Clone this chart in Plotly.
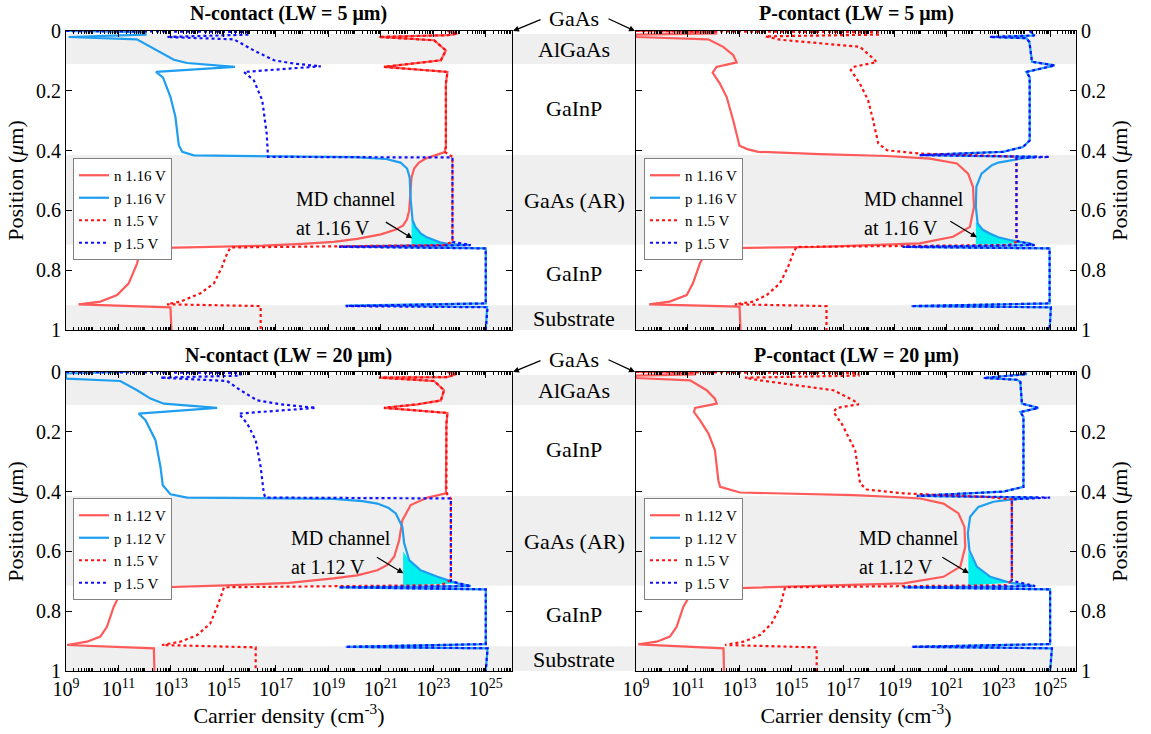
import plotly.graph_objects as go

# ---------------- data (position in µm, carrier density as log10 exponent) ----------------
# Panel 1: N-contact (LW = 5 µm)
tl_n_lo_pos = [0.0, 0.009, 0.014, 0.02, 0.031, 0.065, 0.098, 0.109, 0.12, 0.137, 0.176, 0.388, 0.405, 0.415, 0.425, 0.44, 0.46, 0.49, 0.55, 0.6, 0.63, 0.65, 0.665, 0.68, 0.695, 0.705, 0.712, 0.718, 0.722, 0.727, 0.777, 0.844, 0.883, 0.905, 0.914, 0.924, 1.0]
tl_n_lo_exp = [23.54, 23.92, 23.54, 20.93, 23.03, 23.48, 23.29, 22.27, 21.12, 23.54, 23.48, 23.48, 23.43, 23.1, 22.75, 22.45, 22.27, 22.17, 22.12, 22.08, 22.0, 21.85, 21.55, 21.0, 20.1, 19.2, 18.0, 16.5, 14.5, 11.84, 11.71, 11.39, 10.95, 10.31, 9.48, 12.98, 13.02]
tl_p_lo_pos = [0.0, 0.004, 0.012, 0.02, 0.028, 0.065, 0.096, 0.107, 0.12, 0.137, 0.156, 0.22, 0.287, 0.382, 0.404, 0.416, 0.42, 0.422, 0.428, 0.44, 0.46, 0.49, 0.566, 0.633, 0.655, 0.677, 0.69, 0.7, 0.708, 0.713, 0.716, 0.72, 0.727, 0.911, 0.918, 0.923, 1.0]
tl_p_lo_exp = [9.0, 12.03, 12.03, 9.1, 11.7, 12.47, 13.11, 13.62, 15.44, 12.43, 12.7, 12.98, 13.17, 13.3, 13.43, 13.87, 17.0, 20.0, 21.2, 21.75, 22.0, 22.1, 22.14, 22.21, 22.32, 22.52, 22.75, 23.03, 23.3, 23.6, 24.4, 19.4, 25.0, 25.0, 19.65, 25.05, 25.0]
tl_n_hi_pos = [0.0, 0.009, 0.014, 0.02, 0.031, 0.065, 0.098, 0.109, 0.12, 0.137, 0.176, 0.388, 0.404, 0.421, 0.705, 0.716, 0.724, 0.744, 0.788, 0.844, 0.877, 0.905, 0.914, 0.92, 1.0]
tl_n_hi_exp = [23.54, 23.92, 23.54, 20.93, 23.03, 23.48, 23.29, 22.27, 21.12, 23.54, 23.48, 23.48, 23.43, 23.73, 23.73, 23.4, 15.27, 15.14, 14.95, 14.64, 14.13, 13.36, 12.85, 16.42, 16.42]
tl_p_hi_pos = [0.0, 0.003, 0.012, 0.02, 0.028, 0.065, 0.098, 0.109, 0.118, 0.137, 0.165, 0.232, 0.343, 0.41, 0.421, 0.423, 0.705, 0.716, 0.722, 0.727, 0.911, 0.92, 0.924, 1.0]
tl_p_hi_exp = [9.0, 15.97, 15.97, 12.85, 15.4, 16.16, 16.93, 17.69, 18.71, 15.78, 16.16, 16.48, 16.65, 16.67, 16.7, 23.73, 23.73, 24.43, 19.41, 25.0, 25.0, 19.66, 25.07, 25.0]

# Panel 2: P-contact (LW = 5 µm)
tr_n_lo_pos = [0.0, 0.003, 0.008, 0.012, 0.02, 0.028, 0.053, 0.081, 0.105, 0.12, 0.139, 0.176, 0.22, 0.3, 0.384, 0.395, 0.404, 0.412, 0.418, 0.427, 0.443, 0.477, 0.521, 0.588, 0.655, 0.688, 0.71, 0.722, 0.727, 0.777, 0.844, 0.883, 0.905, 0.914, 0.922, 1.0]
tr_n_lo_exp = [9.0, 12.1, 12.1, 9.0, 9.0, 11.79, 12.37, 12.76, 12.89, 12.11, 11.96, 12.24, 12.5, 12.76, 13.0, 13.3, 13.72, 16.1, 18.7, 20.35, 21.4, 21.83, 22.02, 22.06, 21.9, 21.25, 19.96, 16.1, 11.79, 11.47, 11.2, 10.96, 10.3, 9.51, 13.0, 13.04]
tr_p_lo_pos = [0.0, 0.015, 0.02, 0.024, 0.037, 0.103, 0.115, 0.137, 0.154, 0.366, 0.388, 0.404, 0.415, 0.421, 0.426, 0.432, 0.44, 0.449, 0.465, 0.477, 0.521, 0.588, 0.644, 0.665, 0.677, 0.69, 0.699, 0.71, 0.716, 0.722, 0.727, 0.911, 0.92, 0.924, 1.0]
tr_p_lo_exp = [24.21, 24.4, 22.67, 24.08, 24.2, 24.3, 25.18, 24.08, 24.21, 24.21, 23.95, 23.18, 19.96, 24.5, 23.9, 23.5, 23.0, 22.75, 22.5, 22.35, 22.15, 22.13, 22.2, 22.4, 22.67, 23.0, 23.44, 24.2, 24.4, 19.3, 24.98, 24.98, 19.64, 25.03, 24.98]
tr_n_hi_pos = [0.0, 0.004, 0.012, 0.018, 0.029, 0.053, 0.087, 0.104, 0.12, 0.131, 0.176, 0.232, 0.298, 0.376, 0.399, 0.41, 0.42, 0.705, 0.716, 0.722, 0.744, 0.788, 0.844, 0.883, 0.905, 0.914, 0.92, 1.0]
tr_n_hi_exp = [9.0, 18.4, 18.4, 14.0, 14.56, 17.65, 18.1, 18.3, 17.4, 17.3, 17.65, 17.97, 18.16, 18.36, 18.7, 19.96, 23.7, 23.7, 23.4, 15.2, 15.07, 14.88, 14.56, 14.05, 13.53, 12.82, 16.36, 16.36]
tr_p_hi_pos = [0.0, 0.015, 0.02, 0.024, 0.037, 0.103, 0.115, 0.137, 0.154, 0.366, 0.388, 0.404, 0.415, 0.421, 0.425, 0.702, 0.716, 0.722, 0.727, 0.911, 0.92, 0.924, 1.0]
tr_p_hi_exp = [24.21, 24.4, 22.67, 24.08, 24.2, 24.3, 25.18, 24.08, 24.21, 24.21, 23.95, 23.18, 19.96, 24.98, 23.7, 23.7, 24.4, 19.3, 24.98, 24.98, 19.64, 25.03, 24.98]

# Panel 3: N-contact (LW = 20 µm)
bl_n_lo_pos = [0.0, 0.007, 0.017, 0.019, 0.03, 0.061, 0.095, 0.108, 0.12, 0.137, 0.173, 0.395, 0.406, 0.42, 0.445, 0.496, 0.562, 0.618, 0.645, 0.663, 0.68, 0.69, 0.705, 0.713, 0.72, 0.724, 0.741, 0.785, 0.852, 0.885, 0.902, 0.913, 0.924, 1.0]
bl_n_lo_exp = [23.54, 23.86, 23.54, 20.93, 23.03, 23.41, 23.29, 22.4, 21.12, 23.54, 23.5, 23.5, 23.48, 22.78, 22.14, 21.82, 21.7, 21.51, 21.25, 20.87, 20.1, 19.2, 17.5, 15.4, 13.0, 11.2, 11.07, 10.82, 10.56, 10.31, 9.8, 9.04, 12.35, 12.37]
bl_p_lo_pos = [0.0, 0.005, 0.022, 0.03, 0.061, 0.089, 0.106, 0.12, 0.139, 0.161, 0.228, 0.317, 0.379, 0.409, 0.42, 0.424, 0.432, 0.44, 0.455, 0.473, 0.518, 0.573, 0.629, 0.663, 0.685, 0.707, 0.716, 0.72, 0.727, 0.91, 0.919, 0.924, 1.0]
bl_p_lo_exp = [11.33, 9.0, 9.0, 11.07, 11.71, 12.22, 12.73, 14.76, 11.77, 12.03, 12.41, 12.6, 12.69, 12.98, 13.62, 19.2, 20.3, 20.87, 21.3, 21.57, 21.82, 21.89, 22.08, 22.52, 23.16, 23.92, 24.43, 19.4, 25.0, 25.0, 19.66, 25.07, 25.0]
bl_n_hi_pos = [0.0, 0.007, 0.017, 0.019, 0.03, 0.061, 0.095, 0.108, 0.12, 0.137, 0.173, 0.395, 0.412, 0.423, 0.696, 0.713, 0.72, 0.74, 0.785, 0.841, 0.88, 0.902, 0.913, 0.921, 1.0]
bl_n_hi_exp = [23.54, 23.86, 23.54, 20.93, 23.03, 23.41, 23.29, 22.4, 21.12, 23.54, 23.5, 23.5, 23.54, 23.67, 23.67, 23.3, 15.02, 14.95, 14.76, 14.5, 14.0, 13.36, 12.66, 16.23, 16.23]
bl_p_hi_pos = [0.0, 0.003, 0.012, 0.019, 0.03, 0.061, 0.095, 0.108, 0.12, 0.139, 0.173, 0.228, 0.317, 0.406, 0.42, 0.423, 0.7, 0.716, 0.72, 0.727, 0.91, 0.919, 0.924, 1.0]
bl_p_hi_exp = [9.0, 15.65, 15.65, 12.6, 15.14, 15.65, 16.29, 17.18, 18.52, 15.59, 15.91, 16.23, 16.42, 16.54, 16.6, 23.67, 23.67, 24.43, 19.4, 25.0, 25.0, 19.66, 25.07, 25.0]

# Panel 4: P-contact (LW = 20 µm)
br_n_lo_pos = [0.0, 0.003, 0.008, 0.012, 0.02, 0.028, 0.061, 0.089, 0.106, 0.12, 0.134, 0.161, 0.206, 0.262, 0.362, 0.384, 0.403, 0.412, 0.418, 0.423, 0.44, 0.473, 0.518, 0.585, 0.651, 0.685, 0.707, 0.718, 0.727, 0.785, 0.852, 0.885, 0.902, 0.911, 0.924, 1.0]
br_n_lo_exp = [9.0, 11.28, 11.28, 9.0, 9.0, 11.09, 11.73, 12.05, 12.12, 11.28, 11.24, 11.47, 11.8, 12.05, 12.18, 12.25, 13.02, 17.4, 19.0, 19.98, 20.88, 21.46, 21.69, 21.72, 21.53, 20.88, 19.34, 14.82, 11.22, 10.83, 10.57, 10.31, 9.8, 9.09, 12.38, 12.4]
br_p_lo_pos = [0.0, 0.007, 0.02, 0.026, 0.033, 0.106, 0.12, 0.134, 0.15, 0.384, 0.4, 0.414, 0.42, 0.426, 0.434, 0.451, 0.484, 0.54, 0.596, 0.651, 0.685, 0.705, 0.716, 0.72, 0.727, 0.91, 0.919, 0.924, 1.0]
br_p_lo_exp = [23.97, 24.1, 22.43, 23.72, 23.85, 23.91, 24.55, 23.85, 23.97, 23.97, 23.2, 19.85, 24.5, 23.52, 22.81, 22.23, 21.91, 21.82, 21.88, 22.17, 22.69, 23.46, 24.42, 19.34, 25.0, 25.0, 19.66, 25.07, 25.0]
br_n_hi_pos = [0.0, 0.004, 0.012, 0.019, 0.028, 0.061, 0.095, 0.108, 0.12, 0.134, 0.173, 0.262, 0.373, 0.393, 0.406, 0.418, 0.426, 0.696, 0.713, 0.72, 0.74, 0.785, 0.841, 0.88, 0.902, 0.913, 0.921, 1.0]
br_n_hi_exp = [9.0, 17.6, 17.6, 13.21, 13.79, 16.63, 17.4, 17.6, 16.76, 16.63, 16.95, 17.47, 17.66, 17.92, 19.34, 22.56, 23.52, 23.52, 23.3, 14.76, 14.7, 14.57, 14.24, 13.79, 13.15, 12.44, 15.98, 15.98]
br_p_hi_pos = [0.0, 0.007, 0.02, 0.026, 0.033, 0.106, 0.12, 0.134, 0.15, 0.384, 0.4, 0.414, 0.42, 0.426, 0.698, 0.716, 0.72, 0.727, 0.91, 0.919, 0.924, 1.0]
br_p_hi_exp = [23.97, 24.1, 22.43, 23.72, 23.85, 23.91, 24.55, 23.85, 23.97, 23.97, 23.2, 19.85, 25.0, 23.52, 23.52, 24.42, 19.34, 25.0, 25.0, 19.66, 25.07, 25.0]

panel_titles = ["N-contact (LW = 5 μm)", "P-contact (LW = 5 μm)",
                "N-contact (LW = 20 μm)", "P-contact (LW = 20 μm)"]
low_bias = ["1.16 V", "1.16 V", "1.12 V", "1.12 V"]
high_bias = "1.5 V"
# MD channel fill: (top position, bottom position, left edge exponent)
channel_top = [0.63, 0.64, 0.6, 0.6]
channel_bottom = [0.714, 0.714, 0.714, 0.714]
channel_left = [22.17, 22.13, 21.85, 21.84]

layer_names = ["AlGaAs", "GaInP", "GaAs (AR)", "GaInP", "Substrate"]
layer_label_pos = [0.061, 0.258, 0.566, 0.81, 0.963]
gray_bands = [(0.01, 0.11), (0.415, 0.715), (0.917, 1.0)]

x_tick_exps = list(range(9, 26, 2))

panels = [
    (tl_n_lo_pos, tl_n_lo_exp, tl_p_lo_pos, tl_p_lo_exp, tl_n_hi_pos, tl_n_hi_exp, tl_p_hi_pos, tl_p_hi_exp),
    (tr_n_lo_pos, tr_n_lo_exp, tr_p_lo_pos, tr_p_lo_exp, tr_n_hi_pos, tr_n_hi_exp, tr_p_hi_pos, tr_p_hi_exp),
    (bl_n_lo_pos, bl_n_lo_exp, bl_p_lo_pos, bl_p_lo_exp, bl_n_hi_pos, bl_n_hi_exp, bl_p_hi_pos, bl_p_hi_exp),
    (br_n_lo_pos, br_n_lo_exp, br_p_lo_pos, br_p_lo_exp, br_n_hi_pos, br_n_hi_exp, br_p_hi_pos, br_p_hi_exp),
]

# ---------------- layout geometry ----------------
W, H = 1151, 734
FONT = "Liberation Serif, Times New Roman, Times, serif"
xdoms = [[66 / W, 512 / W], [636 / W, 1076 / W]] * 2
ydom_top = [1 - 330 / H, 1 - 31 / H]
ydom_bot = [1 - 671 / H, 1 - 372 / H]
ydoms = [ydom_top, ydom_top, ydom_bot, ydom_bot]

C_N_LO = "#ff5a5a"
C_P_LO = "#1e9ef0"
C_N_HI = "#ff1010"
C_P_HI = "#1010ff"

fig = go.Figure()

def tolin(e):
    return [10.0 ** v for v in e]

for i, (nlp, nle, plp, ple, nhp, nhe, php, phe) in enumerate(panels):
    k = i + 1
    xa = "x" if k == 1 else f"x{k}"
    ya = "y" if k == 1 else f"y{k}"
    lg = "legend" if k == 1 else f"legend{k}"
    # MD channel fill
    sel = [(p, e) for p, e in zip(plp, ple) if channel_top[i] <= p <= channel_bottom[i]]
    fx = [channel_left[i]] + [e for p, e in sel] + [channel_left[i]]
    fy = [channel_top[i]] + [p for p, e in sel] + [channel_bottom[i]]
    fig.add_trace(go.Scatter(x=tolin(fx), y=fy, mode="lines", fill="toself",
                             fillcolor="#00f0f0", line=dict(width=0), showlegend=False,
                             hoverinfo="skip", xaxis=xa, yaxis=ya))
    fig.add_trace(go.Scatter(x=tolin(nle), y=nlp, mode="lines", name="n " + low_bias[i],
                             line=dict(color=C_N_LO, width=2.2), xaxis=xa, yaxis=ya, legend=lg))
    fig.add_trace(go.Scatter(x=tolin(ple), y=plp, mode="lines", name="p " + low_bias[i],
                             line=dict(color=C_P_LO, width=2.2), xaxis=xa, yaxis=ya, legend=lg))
    fig.add_trace(go.Scatter(x=tolin(nhe), y=nhp, mode="lines", name="n " + high_bias,
                             line=dict(color=C_N_HI, width=2.2, dash="dot"), xaxis=xa, yaxis=ya, legend=lg))
    fig.add_trace(go.Scatter(x=tolin(phe), y=php, mode="lines", name="p " + high_bias,
                             line=dict(color=C_P_HI, width=2.2, dash="dot"), xaxis=xa, yaxis=ya, legend=lg))

minor_vals = [float(m) * 10.0 ** d for d in range(9, 26) for m in range(1, 10)
              if not (m == 1 and d in x_tick_exps)]

layout = dict(
    width=W, height=H,
    margin=dict(l=0, r=0, t=0, b=0),
    paper_bgcolor="white", plot_bgcolor="rgba(0,0,0,0)",
    font=dict(family=FONT, size=20, color="black"),
    showlegend=True,
)

for i in range(4):
    k = i + 1
    xkey = "xaxis" if k == 1 else f"xaxis{k}"
    ykey = "yaxis" if k == 1 else f"yaxis{k}"
    bottom = i >= 2
    right = i % 2 == 1
    layout[xkey] = dict(
        type="log", range=[9, 26], domain=xdoms[i],
        anchor="y" if k == 1 else f"y{k}",
        showline=True, linecolor="black", linewidth=1, mirror="allticks",
        ticks="inside", ticklen=6, tickcolor="black",
        tickvals=[10.0 ** e for e in x_tick_exps],
        ticktext=[f"10<sup>{e}</sup>" for e in x_tick_exps],
        showticklabels=bottom,
        minor=dict(ticks="inside", ticklen=3, tickvals=minor_vals, tickcolor="black"),
        showgrid=False, zeroline=False,
        tickfont=dict(family=FONT, size=20),
        title=dict(text="Carrier density (cm<sup>-3</sup>)" if bottom else "",
                   font=dict(family=FONT, size=22), standoff=4),
        automargin=False,
    )
    layout[ykey] = dict(
        range=[1, 0], domain=ydoms[i],
        anchor="x" if k == 1 else f"x{k}",
        side="right" if right else "left",
        showline=True, linecolor="black", linewidth=1, mirror="allticks",
        ticks="inside", ticklen=6, tickcolor="black",
        tickvals=[0, 0.2, 0.4, 0.6, 0.8, 1.0],
        ticktext=["0", "0.2", "0.4", "0.6", "0.8", "1"],
        showgrid=False, zeroline=False,
        tickfont=dict(family=FONT, size=20),
        title=dict(text="Position (<i>μ</i>m)", font=dict(family=FONT, size=22), standoff=6),
        automargin=False,
    )
    lkey = "legend" if k == 1 else f"legend{k}"
    layout[lkey] = dict(
        x=(73 if not right else 644) / W,
        y=1 - (158 if not bottom else 498) / H,
        xanchor="left", yanchor="top",
        bordercolor="#808080", borderwidth=1, bgcolor="white",
        font=dict(family=FONT, size=15), tracegroupgap=0, itemwidth=30,
    )

fig.update_layout(**layout)

def pos_to_paper(pos, dom):
    return dom[1] - pos * (dom[1] - dom[0])

# gray layer bands across both columns
for dom in (ydom_top, ydom_bot):
    for (a, b) in gray_bands:
        fig.add_shape(type="rect", xref="paper", yref="paper",
                      x0=xdoms[0][0], x1=xdoms[1][1],
                      y0=pos_to_paper(b, dom), y1=pos_to_paper(a, dom),
                      fillcolor="#efefef", line=dict(width=0), layer="below")

anns = []
# panel titles
for i in range(4):
    xc = (xdoms[i][0] + xdoms[i][1]) / 2
    yy = 1 - (14 if i < 2 else 355) / H
    anns.append(dict(text=f"<b>{panel_titles[i]}</b>", x=xc, y=yy, xref="paper", yref="paper",
                     showarrow=False, font=dict(family=FONT, size=20), xanchor="center", yanchor="middle"))

# layer labels in the middle column
xmid = 574 / W
for dom, gy in ((ydom_top, 18), (ydom_bot, 359)):
    for name, p in zip(layer_names, layer_label_pos):
        anns.append(dict(text=name, x=xmid, y=pos_to_paper(p, dom), xref="paper", yref="paper",
                         showarrow=False, font=dict(family=FONT, size=22), xanchor="center", yanchor="middle"))
    anns.append(dict(text="GaAs", x=xmid, y=1 - gy / H, xref="paper", yref="paper",
                     showarrow=False, font=dict(family=FONT, size=22), xanchor="center", yanchor="middle"))
    top_px = gy + 13
    anns.append(dict(text="", x=513 / W, y=1 - top_px / H, xref="paper", yref="paper",
                     showarrow=True, ax=29, ay=-12, arrowhead=2, arrowsize=1, arrowwidth=1.2,
                     arrowcolor="black", standoff=0, startstandoff=0))
    anns.append(dict(text="", x=635 / W, y=1 - top_px / H, xref="paper", yref="paper",
                     showarrow=True, ax=-28, ay=-13, arrowhead=2, arrowsize=1, arrowwidth=1.2,
                     arrowcolor="black", standoff=0, startstandoff=0))

# MD channel labels + arrows (x in log10 units for log axes)
md_text_x = [17.7, 17.73, 17.51, 17.53]
md_text_y1 = [0.563, 0.563, 0.556, 0.556]
md_text_y2 = [0.66, 0.66, 0.652, 0.652]
md_head_x = [22.2, 22.17, 21.86, 21.86]
md_head_y = [0.693, 0.69, 0.673, 0.673]
for i in range(4):
    k = i + 1
    xr = "x" if k == 1 else f"x{k}"
    yr = "y" if k == 1 else f"y{k}"
    anns.append(dict(text="MD channel", x=md_text_x[i], y=md_text_y1[i], xref=xr, yref=yr,
                     showarrow=False, xanchor="left", yanchor="middle", font=dict(family=FONT, size=20)))
    anns.append(dict(text="at " + low_bias[i], x=md_text_x[i], y=md_text_y2[i], xref=xr, yref=yr,
                     showarrow=False, xanchor="left", yanchor="middle", font=dict(family=FONT, size=20)))
    anns.append(dict(text="", x=md_head_x[i], y=md_head_y[i], xref=xr, yref=yr,
                     showarrow=True, ax=-28, ay=-17, arrowhead=2, arrowsize=1, arrowwidth=1.2,
                     arrowcolor="black", standoff=0))

fig.update_layout(annotations=anns)
fig.write_html("out.html")
